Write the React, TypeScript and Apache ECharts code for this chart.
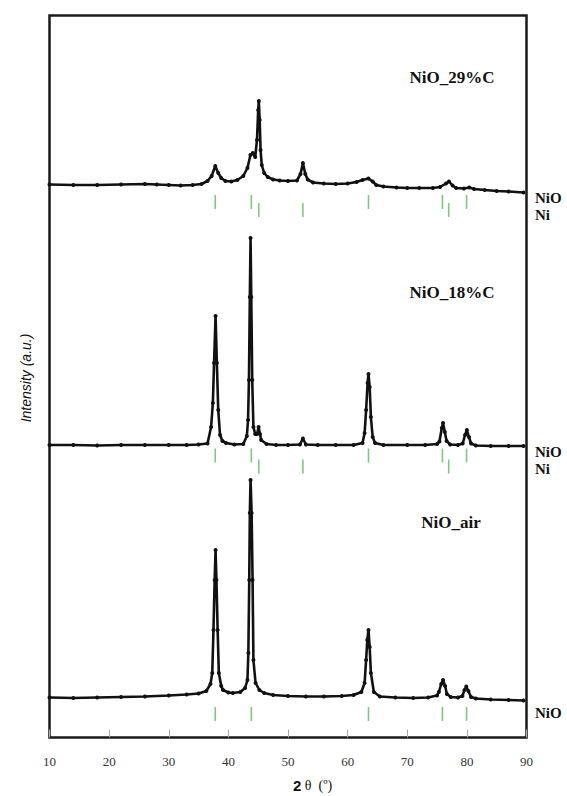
import React, { useEffect, useRef } from "react";
import * as echarts from "echarts";

// 2θ (degrees) tick labels
const xTicks = [10, 20, 30, 40, 50, 60, 70, 80, 90];

// Patterns: [2θ, intensity (a.u., stacked)]
const nio29C: [number, number][] = [
  [10, 553], [14, 552.5], [18, 552.5], [22, 553], [26, 553.5], [28, 553], [30, 552.5], [32, 552],
  [34, 552.5], [35.5, 553.5], [36.5, 556.5], [37.2, 561.5], [37.8, 571.5], [38.3, 564.5], [38.8, 559.5],
  [39.5, 556.5], [40.5, 556], [41.5, 557.5], [42.5, 561.5], [43.2, 569.5], [43.7, 582.5], [44.1, 584.5],
  [44.5, 580.5], [44.8, 597.5], [45.0, 627.5], [45.1, 636.5], [45.25, 617.5], [45.4, 587.5], [45.6, 572.5],
  [46.0, 564.5], [46.6, 560.5], [47.5, 558], [48.6, 557], [50, 556.5], [51.5, 557], [52.1, 563.5],
  [52.5, 574.5], [52.9, 563.5], [53.3, 558], [54.2, 555], [56, 554], [58, 553.5], [60, 554], [61.5, 555.5],
  [62.5, 557.5], [63.5, 559], [64.2, 556], [64.8, 552.5], [66, 551], [68.2, 550], [70, 549.5], [72, 549.5],
  [74.3, 549.5], [75.5, 550.5], [76.5, 554], [77.0, 556], [77.6, 552], [78.2, 549.5], [79.5, 549],
  [80.4, 550], [81.2, 548.5], [83, 547.5], [85, 546.5], [87, 546], [89.5, 545],
];

const nio18C: [number, number][] = [
  [10, 292.5], [14, 292.5], [18, 292], [22, 292.5], [26, 292.5], [30, 292.5], [33, 292.5], [35, 293],
  [36.5, 294], [37.1, 310.5], [37.4, 334.5], [37.6, 374.5], [37.85, 421.5], [38.07, 374.5], [38.3, 327.5],
  [38.6, 302.5], [39.0, 296.5], [39.6, 294.5], [41, 293], [42.5, 293.5], [43.1, 301.5], [43.3, 317.5],
  [43.45, 357.5], [43.6, 440.5], [43.72, 499.5], [43.84, 440.5], [44.0, 357.5], [44.2, 310.5],
  [44.5, 303.5], [44.8, 303.5], [45.07, 310.5], [45.3, 303.5], [45.5, 297.5], [46.4, 293.5], [48, 292.5],
  [50, 292.5], [52, 293], [52.5, 299], [53.0, 293], [55, 292.5], [58, 292.5], [61, 292.5], [62.5, 294.5],
  [62.85, 304.5], [63.1, 327.5], [63.35, 354.5], [63.5, 363.5], [63.7, 350.5], [63.9, 320.5], [64.2, 300.5],
  [64.6, 294.5], [66, 292.5], [70, 292.5], [73, 292.5], [75.0, 293.5], [75.4, 296], [75.8, 309.5],
  [76.0, 314.5], [76.3, 305.5], [76.6, 296.5], [77.2, 293], [78.5, 292.5], [79.3, 294], [79.7, 302.5],
  [80.0, 307.5], [80.35, 300.5], [80.7, 294], [81.5, 292], [84, 291.5], [87, 291.5], [89.5, 291.5],
];

const nioAir: [number, number][] = [
  [10, 40], [14, 39.5], [18, 40], [22, 40.5], [26, 41], [30, 42], [33, 43], [35, 44], [36.3, 46.5],
  [37.0, 53.5], [37.3, 64.5], [37.5, 107.5], [37.7, 157.5], [37.85, 187.5], [38.0, 157.5], [38.2, 107.5],
  [38.4, 64.5], [38.8, 51.5], [39.1, 47.5], [40, 45], [40.75, 44.5], [42, 45.5], [42.8, 49.5], [43.2, 57.5],
  [43.35, 84.5], [43.5, 157.5], [43.6, 224.5], [43.72, 257.5], [43.9, 224.5], [44.06, 157.5], [44.2, 77.5],
  [44.56, 54.5], [45.2, 47.5], [46, 44.5], [47.5, 42.5], [50, 41.5], [53, 41], [56, 41], [59, 41.5],
  [61, 42.5], [62.3, 45.5], [62.85, 54.5], [63.1, 77.5], [63.3, 97.5], [63.5, 107.5], [63.7, 90.5],
  [63.9, 64.5], [64.4, 45.5], [65.4, 41], [68, 40], [71, 39.5], [73.5, 40], [75.0, 42], [75.3, 45.5],
  [75.7, 53.5], [76.0, 57.5], [76.35, 51.5], [76.65, 43.5], [77.3, 40.5], [78.5, 40], [79.25, 41.5],
  [79.6, 47.5], [79.9, 51], [80.25, 46.5], [80.7, 40.5], [81.5, 39], [84, 38], [87, 37.5], [89.5, 37],
];

// Reference reflection positions (2θ)
const nioRefs = [37.8, 43.85, 63.5, 75.9, 79.95];
const niRefs = [45.1, 52.5, 76.95];

const sampleNames = ["NiO_29%C", "NiO_18%C", "NiO_air"];

export default function App() {
  const ref = useRef<HTMLDivElement>(null);
  useEffect(() => {
    if (!ref.current) return;
    const chart = echarts.init(ref.current, undefined, { renderer: "svg" });
    const GREEN = "#62b862";
    const tickSeries = (xs: number[], level: number) => ({
      type: "scatter",
      data: xs.map((x) => [x, level]),
      symbol: "rect",
      symbolSize: [1.6, 14],
      itemStyle: { color: GREEN },
      silent: true,
      z: 1,
    });
    const patternSeries = (d: [number, number][]) => ({
      type: "line",
      data: d,
      symbol: "circle",
      symbolSize: 4,
      showSymbol: true,
      itemStyle: { color: "#111" },
      lineStyle: { color: "#111", width: 2.6 },
      silent: true,
      z: 3,
    });
    const serif = '"Liberation Serif", "Times New Roman", serif';
    const lbl = (text: string, x: number, y: number, size: number, align = "left") => ({
      type: "text",
      x,
      y,
      style: { text, font: `bold ${size}px ${serif}`, fill: "#111", textAlign: align, textVerticalAlign: "middle" },
    });
    chart.setOption({
      animation: false,
      grid: {
        left: 49.5,
        right: 40.5,
        top: 15.5,
        bottom: 58.5,
        show: true,
        borderColor: "#1a1a1a",
        borderWidth: 2.5,
        backgroundColor: "transparent",
      },
      xAxis: {
        type: "value",
        min: 10,
        max: 90,
        interval: 10,
        axisLine: { show: false },
        axisTick: { show: true, inside: true, length: 8, lineStyle: { color: "#aaa", width: 1 } },
        splitLine: { show: false },
        axisLabel: {
          margin: 17,
          color: "#333",
          fontFamily: serif,
          fontSize: 13,
          formatter: (v: number) => (xTicks.includes(v) ? String(v) : ""),
        },
      },
      yAxis: {
        type: "value",
        min: 0,
        max: 722,
        show: false,
      },
      series: [
        patternSeries(nio29C),
        patternSeries(nio18C),
        patternSeries(nioAir),
        tickSeries(nioRefs, 535.5),
        tickSeries(niRefs, 527.5),
        tickSeries(nioRefs, 282),
        tickSeries(niRefs, 271),
        tickSeries(nioRefs, 23.5),
      ],
      graphic: [
        lbl(sampleNames[0], 452, 77, 17, "center"),
        lbl(sampleNames[1], 452, 292, 17, "center"),
        lbl(sampleNames[2], 451, 522, 17, "center"),
        lbl("NiO", 535, 198, 15),
        lbl("Ni", 535, 215, 15),
        lbl("NiO", 535, 452, 15),
        lbl("Ni", 535, 469, 15),
        lbl("NiO", 535, 713, 15),
        {
          type: "text",
          x: 26,
          y: 378,
          rotation: Math.PI / 2,
          style: {
            text: "Intensity (a.u.)",
            font: 'italic 14px "Liberation Sans", Arial, sans-serif',
            fill: "#111",
            textAlign: "center",
            textVerticalAlign: "middle",
          },
        },
        {
          type: "text",
          x: 293,
          y: 785,
          style: {
            text: "{a|2}{b| θ  (º)}",
            textVerticalAlign: "middle",
            rich: {
              a: { font: 'bold 15px "Liberation Sans", Arial, sans-serif', fill: "#111" },
              b: { font: `14px ${serif}`, fill: "#111" },
            },
          },
        },
      ],
    });
    return () => chart.dispose();
  }, []);
  return <div ref={ref} style={{ width: 567, height: 796, position: "absolute", left: 0, top: 0 }} />;
}
